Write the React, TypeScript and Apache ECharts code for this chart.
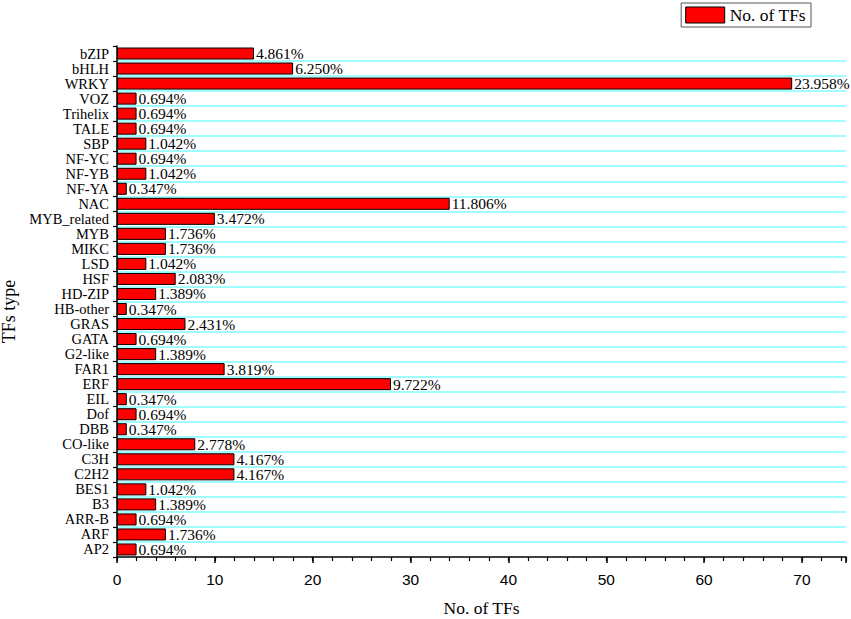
import React, { useEffect, useRef } from 'react';
import * as echarts from 'echarts';

const categories = ['bZIP', 'bHLH', 'WRKY', 'VOZ', 'Trihelix', 'TALE', 'SBP', 'NF-YC', 'NF-YB', 'NF-YA', 'NAC', 'MYB_related', 'MYB', 'MIKC', 'LSD', 'HSF', 'HD-ZIP', 'HB-other', 'GRAS', 'GATA', 'G2-like', 'FAR1', 'ERF', 'EIL', 'Dof', 'DBB', 'CO-like', 'C3H', 'C2H2', 'BES1', 'B3', 'ARR-B', 'ARF', 'AP2'];
const counts = [14, 18, 69, 2, 2, 2, 3, 2, 3, 1, 34, 10, 5, 5, 3, 6, 4, 1, 7, 2, 4, 11, 28, 1, 2, 1, 8, 12, 12, 3, 4, 2, 5, 2];
const percentLabels = ['4.861%', '6.250%', '23.958%', '0.694%', '0.694%', '0.694%', '1.042%', '0.694%', '1.042%', '0.347%', '11.806%', '3.472%', '1.736%', '1.736%', '1.042%', '2.083%', '1.389%', '0.347%', '2.431%', '0.694%', '1.389%', '3.819%', '9.722%', '0.347%', '0.694%', '0.347%', '2.778%', '4.167%', '4.167%', '1.042%', '1.389%', '0.694%', '1.736%', '0.694%'];
const xTickLabels = [0, 10, 20, 30, 40, 50, 60, 70];
const xMax = 74.5;

const SERIF = '"Liberation Serif", "Times New Roman", serif';
const SANS = '"Liberation Sans", Arial, sans-serif';

export default function App() {
  const ref = useRef<HTMLDivElement>(null);
  useEffect(() => {
    if (!ref.current) return;
    const chart = echarts.init(ref.current, null, { renderer: 'svg' });
    chart.setOption({
      animation: false,
      backgroundColor: '#fff',
      legend: {
        right: 40,
        top: 3,
        data: ['No. of TFs'],
        borderColor: '#555',
        borderWidth: 1,
        padding: [3, 5, 3, 4],
        itemWidth: 39,
        itemHeight: 16,
        icon: 'rect',
        itemStyle: { color: '#ff0000', borderColor: '#000', borderWidth: 1 },
        textStyle: { fontFamily: SERIF, fontSize: 17.5, color: '#000' },
      },
      grid: { left: 117, right: 5, top: 46, bottom: 62, containLabel: false, outerBoundsMode: 'none' },
      xAxis: [
        {
          type: 'value',
          min: 0,
          max: xMax,
          interval: 10,
          position: 'bottom',
          name: 'No. of TFs',
          nameLocation: 'middle',
          nameGap: 42,
          nameTextStyle: { fontFamily: SERIF, fontSize: 17.5, color: '#000' },
          axisLine: { show: true, lineStyle: { color: '#000', width: 1.5 } },
          axisTick: { show: true, length: 6, lineStyle: { color: '#000', width: 1.5 } },
          axisLabel: {
            margin: 14,
            fontFamily: SANS,
            fontSize: 15.5,
            color: '#000',
            formatter: (v: number) => (xTickLabels.includes(v) ? String(v) : ''),
          },
          splitLine: { show: false },
        },
        {
          type: 'value',
          min: 0,
          max: xMax,
          interval: 2,
          position: 'bottom',
          axisLine: { show: false },
          axisTick: { show: true, length: 4, lineStyle: { color: '#000', width: 1.2 } },
          axisLabel: { show: false },
          splitLine: { show: false },
        },
      ],
      yAxis: {
        type: 'category',
        data: categories,
        inverse: true,
        name: 'TFs type',
        nameLocation: 'middle',
        nameGap: 97,
        nameTextStyle: { fontFamily: SERIF, fontSize: 18, color: '#000', padding: [0, 20, 0, 0] },
        axisLine: { show: true, lineStyle: { color: '#000', width: 1.5 } },
        axisTick: { show: true, interval: 0, length: 4, lineStyle: { color: '#000', width: 1.2 } },
        axisLabel: { interval: 0, margin: 8, fontFamily: SERIF, fontSize: 14.5, lineHeight: 14, color: '#000' },
        splitLine: {
          show: true,
          interval: 0,
          showMinLine: false,
          showMaxLine: false,
          lineStyle: { color: '#80ffff', width: 1.5 },
        },
      },
      series: [
        {
          name: 'No. of TFs',
          type: 'bar',
          xAxisIndex: 0,
          data: counts,
          barCategoryGap: '20%',
          itemStyle: { color: '#ff0000', borderColor: '#000', borderWidth: 1 },
          label: {
            show: true,
            position: 'right',
            distance: 2,
            fontFamily: SERIF,
            fontSize: 15.5,
            lineHeight: 14,
            color: '#000',
            formatter: (p: any) => percentLabels[p.dataIndex],
          },
        },
      ],
    });
    return () => chart.dispose();
  }, []);
  return (
    <div
      ref={ref}
      style={{ position: 'absolute', left: 0, top: 0, width: 851, height: 619 }}
    />
  );
}
